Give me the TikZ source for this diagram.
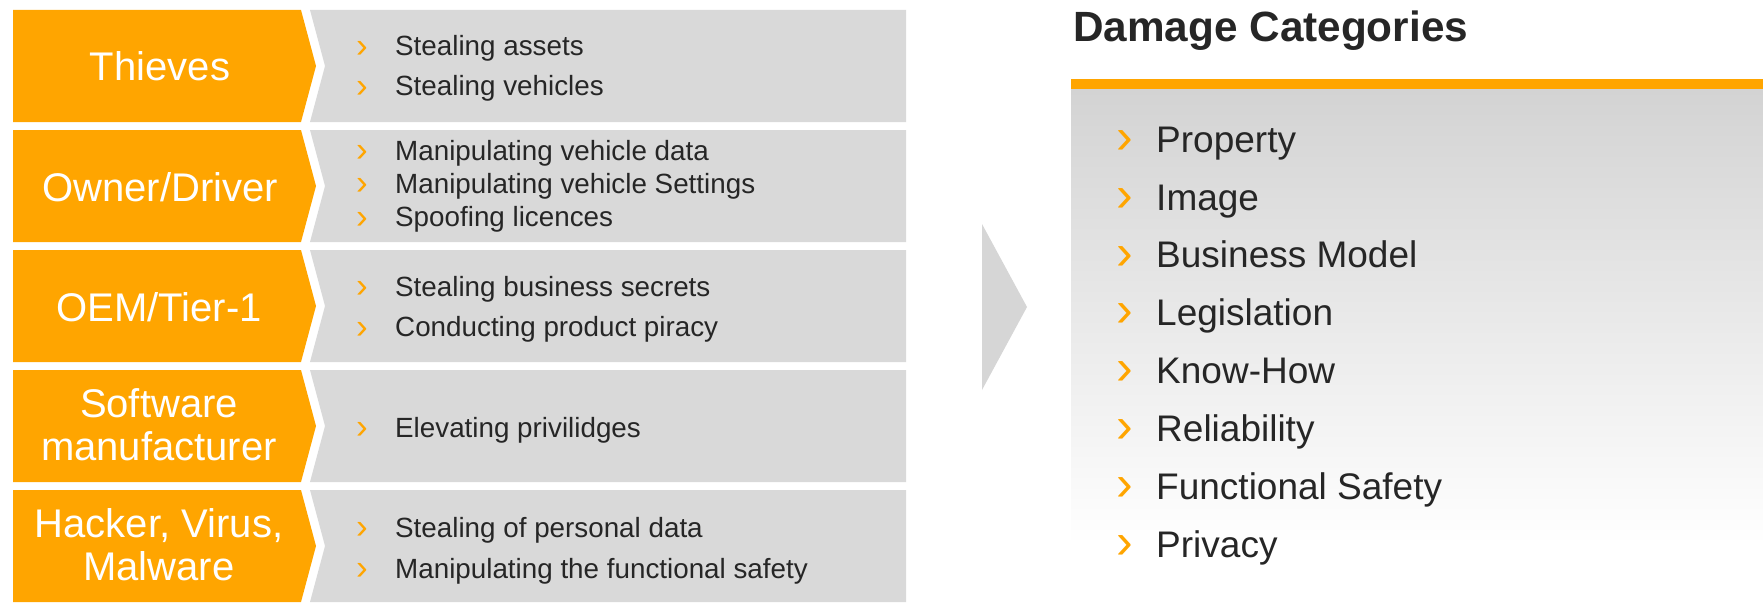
\documentclass[tikz,border=0pt]{standalone}
\usepackage{fontspec}
\setmainfont{Liberation Sans}
\definecolor{org}{RGB}{255,165,0}
\definecolor{rowgray}{RGB}{217,217,217}
\definecolor{arrowgray}{RGB}{214,214,214}
\definecolor{shadetop}{RGB}{211,211,211}
\definecolor{ink}{RGB}{38,38,38}
\tikzset{
  actorlbl/.style={anchor=base, text=white, font=\fontsize{40}{44}\selectfont, inner sep=0pt},
  threat/.style={anchor=base west, text=ink, font=\fontsize{27.8}{30}\selectfont, inner sep=0pt},
  tbul/.style={anchor=base west, text=org, font=\fontsize{35}{38}\selectfont, inner sep=0pt},
  catitem/.style={anchor=base west, text=ink, font=\fontsize{37}{42}\selectfont, inner sep=0pt},
  cbul/.style={anchor=base west, text=org, font=\fontsize{50}{54}\selectfont, inner sep=0pt},
  titlelbl/.style={anchor=base west, text=ink, font=\fontsize{42.3}{46}\selectfont\bfseries, inner sep=0pt}
}
\newcommand\thr[3]{%
  \node[tbul] (#1b) at (356,{#2+1.5}) {›};
  \node[threat] (#1) at (395,#2) {#3};}
\newcommand\dcat[3]{%
  \node[cbul] (#1b) at (1116,{#2+1.5}) {›};
  \node[catitem] (#1) at (1156,#2) {#3};}
\begin{document}
\begin{tikzpicture}[x=1pt,y=-1pt]
\useasboundingbox (0,0) rectangle (1763,602);
% rows
\foreach \t in {10,130,250,370,490}{
  \fill[org] (13,\t) -- (301,\t) -- (316,{\t+56}) -- (301,{\t+112}) -- (13,{\t+112}) -- cycle;
  \fill[rowgray] (310,\t) -- (906,\t) -- (906,{\t+112}) -- (310,{\t+112}) -- (325,{\t+56}) -- cycle;
}
% actor labels
\node[actorlbl] (thieves) at (160,81) {Thieves};
\node[actorlbl] (owner) at (160,201.5) {Owner/Driver};
\node[actorlbl] (oem) at (159,321.5) {OEM/Tier-1};
\node[actorlbl] (sw1) at (159,417) {Software};
\node[actorlbl] (sw2) at (159,460) {manufacturer};
\node[actorlbl] (hk1) at (159,537) {Hacker, Virus,};
\node[actorlbl] (hk2) at (159,580) {Malware};
% threats
\thr{t11}{56}{Stealing assets}
\thr{t12}{95.7}{Stealing vehicles}
\thr{t21}{160}{Manipulating vehicle data}
\thr{t22}{193}{Manipulating vehicle Settings}
\thr{t23}{226.7}{Spoofing licences}
\thr{t31}{296}{Stealing business secrets}
\thr{t32}{336.7}{Conducting product piracy}
\thr{t41}{437}{Elevating privilidges}
\thr{t51}{537.3}{Stealing of personal data}
\thr{t52}{578.3}{Manipulating the functional safety}
% big arrow
\fill[arrowgray] (982,224) -- (1027,307) -- (982,390) -- cycle;
% right panel
\shade[top color=shadetop, bottom color=white] (1071,89) rectangle (1763,545);
\fill[org] (1071,79) rectangle (1763,89);
\node[titlelbl] (title) at (1073,42) {Damage Categories};
\dcat{c1}{152}{Property}
\dcat{c2}{210}{Image}
\dcat{c3}{267.5}{Business Model}
\dcat{c4}{325.3}{Legislation}
\dcat{c5}{383}{Know-How}
\dcat{c6}{441}{Reliability}
\dcat{c7}{499}{Functional Safety}
\dcat{c8}{557}{Privacy}
\end{tikzpicture}
\end{document}
